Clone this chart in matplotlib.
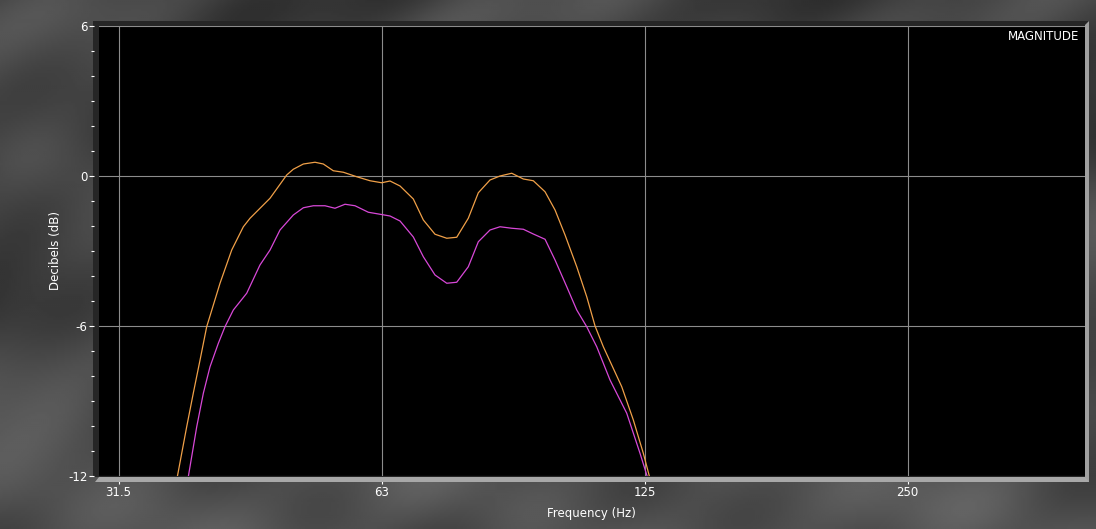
import numpy as np
import matplotlib
matplotlib.use("Agg")
import matplotlib.pyplot as plt
from matplotlib.patches import Rectangle, Polygon
from matplotlib.ticker import FixedLocator, MultipleLocator, NullFormatter

# ---------------- data ----------------
orange_freq = [36.08, 36.78, 37.70, 38.36, 39.05, 39.74, 41.16, 42.45, 43.77, 44.55,
               46.96, 49.07, 49.93, 51.27, 52.87, 54.04, 55.48, 56.97, 59.02, 61.12,
               63.03, 64.43, 66.15, 68.51, 70.34, 72.54, 74.82, 76.81, 79.19, 81.31,
               83.85, 86.09, 88.79, 91.55, 93.99, 96.94, 99.53, 102.19, 105.39, 108.20,
               110.60, 113.04, 118.66, 122.34, 125.60, 127.60, 128.51]
orange_db = [-13.3, -12.03, -10.03, -8.69, -7.36, -6.03, -4.29, -2.96, -2.03, -1.69,
             -0.89, 0.04, 0.27, 0.48, 0.55, 0.48, 0.21, 0.15, -0.03, -0.19,
             -0.27, -0.20, -0.40, -0.92, -1.76, -2.33, -2.49, -2.45, -1.69, -0.67,
             -0.16, 0.00, 0.11, -0.12, -0.19, -0.63, -1.36, -2.36, -3.63, -4.83,
             -6.00, -6.83, -8.43, -9.76, -11.09, -12.00, -12.4]

magenta_freq = [37.54, 37.86, 38.71, 39.39, 40.09, 40.98, 41.70, 42.63, 44.16, 45.73,
                46.96, 48.21, 49.93, 51.27, 52.64, 54.28, 55.73, 57.22, 58.75, 60.85,
                62.75, 64.43, 66.15, 68.51, 70.34, 72.54, 74.82, 76.81, 79.19, 81.31,
                83.85, 86.09, 88.79, 91.55, 93.99, 96.94, 99.53, 102.65, 105.39, 108.20,
                111.09, 115.05, 120.23, 124.51, 126.93, 127.85]
magenta_db = [-12.6, -12.03, -10.03, -8.69, -7.63, -6.69, -6.03, -5.36, -4.69, -3.56,
              -2.96, -2.16, -1.56, -1.27, -1.19, -1.19, -1.29, -1.13, -1.19, -1.45,
              -1.53, -1.60, -1.80, -2.44, -3.23, -3.96, -4.29, -4.25, -3.63, -2.63,
              -2.16, -2.03, -2.09, -2.13, -2.32, -2.53, -3.36, -4.43, -5.36, -6.03,
              -6.83, -8.16, -9.49, -11.09, -12.03, -12.4]

x_tick_pos = [31.5, 63.0, 126.0, 252.0]
x_tick_labels = ["31.5", "63", "125", "250"]
y_tick_pos = [6, 0, -6, -12]
y_tick_labels = ["6", "0", "-6", "-12"]

# ---------------- figure ----------------
W, H = 1096, 529
fig = plt.figure(figsize=(W / 100, H / 100), dpi=100)
fig.patch.set_facecolor("#3a3a3a")

def fx(x):
    return x / W

def fy(y):
    return 1 - y / H

# background texture (deterministic smooth pattern)
bg = fig.add_axes([0, 0, 1, 1], zorder=-10)
yy, xx = np.mgrid[0:H:2, 0:W:2]
tex = (0.5 + 0.18 * np.sin(xx / 70.0 + 2.0 * np.sin(yy / 55.0))
       + 0.12 * np.sin(yy / 33.0 + 1.5 * np.cos(xx / 90.0))
       + 0.08 * np.sin((xx + yy) / 23.0))
tex = tex + 0.25 * (yy / H) ** 3
g = 0.17 + 0.22 * (tex - tex.min()) / (tex.max() - tex.min())
bg.imshow(g, cmap="gray", vmin=0, vmax=1, extent=[0, 1, 0, 1], aspect="auto",
          interpolation="bilinear")
bg.set_axis_off()

# dark frame border behind plot area
fig.patches.append(Rectangle((fx(93), fy(477)), fx(1089) - fx(93), fy(21) - fy(477),
                             transform=fig.transFigure, facecolor="#262626",
                             edgecolor="none", zorder=-5))

left, right, top, bottom = 99, 1085, 26, 476
ax = fig.add_axes([fx(left), fy(bottom), fx(right) - fx(left), fy(top) - fy(bottom)])
ax.set_facecolor("black")

ax.plot(orange_freq, orange_db, color="#f0a048", lw=0.9, zorder=3)
ax.plot(magenta_freq, magenta_db, color="#d848d8", lw=0.9, zorder=3)

ax.set_xscale("log")
ax.set_xlim(29.92, 402.3)
ax.set_ylim(-12, 6)

ax.xaxis.set_major_locator(FixedLocator(x_tick_pos))
ax.xaxis.set_minor_locator(FixedLocator([]))
ax.set_xticklabels(x_tick_labels)
ax.xaxis.set_minor_formatter(NullFormatter())
ax.yaxis.set_major_locator(FixedLocator(y_tick_pos))
ax.set_yticklabels(y_tick_labels)
ax.yaxis.set_minor_locator(MultipleLocator(1))

ax.grid(True, which="major", color="#8c8c8c", lw=0.8)
ax.set_axisbelow(True)

for s in ["top", "right"]:
    ax.spines[s].set_visible(False)
ax.spines["left"].set_position(("outward", 3.6))
ax.spines["bottom"].set_position(("outward", 2.9))
ax.spines["left"].set_visible(False)
ax.spines["bottom"].set_visible(False)

ax.tick_params(axis="y", which="major", length=3.3, width=0.8, color="white",
               labelcolor="white", labelsize=8.5, pad=1.5)
ax.tick_params(axis="y", which="minor", length=2.4, width=0.8, color="white")
ax.tick_params(axis="x", which="major", length=3.0, width=0.8, color="white",
               labelcolor="white", labelsize=8.5, pad=1.5)

# bottom bevel bar and right bevel
fig.patches.append(Polygon([(fx(95), fy(482)), (fx(99), fy(477)), (fx(1089), fy(477)),
                            (fx(1089), fy(482))], closed=True,
                           transform=fig.transFigure, facecolor="#a8a8a8",
                           edgecolor="none", zorder=5))
fig.patches.append(Polygon([(fx(1085), fy(477)), (fx(1085), fy(25)), (fx(1089), fy(21)),
                            (fx(1089), fy(482))], closed=True,
                           transform=fig.transFigure, facecolor="#a0a0a0",
                           edgecolor="none", zorder=5))

fig.text(fx(1079), fy(37), "MAGNITUDE", color="white", fontsize=8.5,
         ha="right", va="center")
fig.text(fx(591), fy(514), "Frequency (Hz)", color="white", fontsize=8.5,
         ha="center", va="center")
fig.text(fx(55), fy(250), "Decibels (dB)", color="white", fontsize=8.5,
         ha="center", va="center", rotation=90)

fig.savefig("out.png", dpi=100, facecolor=fig.get_facecolor())
